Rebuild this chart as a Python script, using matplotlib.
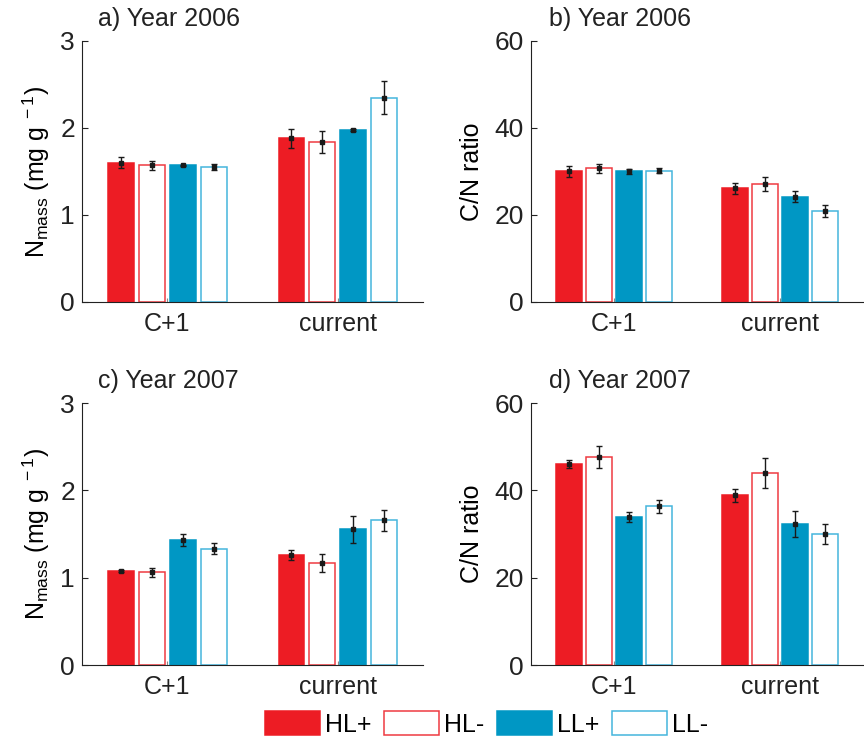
import numpy as np
import matplotlib
matplotlib.use('Agg')
import matplotlib.pyplot as plt
from matplotlib.patches import Patch

plt.rcParams['font.family'] = ['Liberation Sans', 'DejaVu Sans']
plt.rcParams['mathtext.fontset'] = 'custom'
plt.rcParams['mathtext.rm'] = 'Liberation Sans'
plt.rcParams['mathtext.it'] = 'Liberation Sans:italic'

# Leaf categories and treatments
categories = ['C+1', 'current']
treatments = ['HL+', 'HL-', 'LL+', 'LL-']

# N mass (mg g-1), rows = treatments, cols = categories
n_2006 = [[1.60, 1.88], [1.57, 1.84], [1.57, 1.975], [1.55, 2.345]]
n_2006_err = [[0.065, 0.11], [0.055, 0.13], [0.01, 0.01], [0.035, 0.19]]
n_2007 = [[1.075, 1.257], [1.062, 1.165], [1.43, 1.555], [1.334, 1.658]]
n_2007_err = [[0.01, 0.055], [0.05, 0.105], [0.065, 0.155], [0.06, 0.12]]

# C/N ratio
cn_2006 = [[30.0, 26.1], [30.7, 27.1], [30.0, 24.2], [30.2, 20.9]]
cn_2006_err = [[1.3, 1.3], [1.0, 1.7], [0.6, 1.3], [0.6, 1.35]]
cn_2007 = [[46.0, 38.9], [47.7, 44.0], [33.9, 32.3], [36.4, 30.0]]
cn_2007_err = [[0.95, 1.5], [2.5, 3.5], [1.25, 3.05], [1.5, 2.25]]

red = '#ED1C24'
blue = '#0097C4'
faces = [red, 'white', blue, 'white']
edges = [red, '#EF3A41', blue, '#45B5DD']

fig = plt.figure(figsize=(8.64, 7.38), dpi=100)

# Axes boxes: left, bottom, width, height
boxes = [[0.0949, 0.5908, 0.3947, 0.3537],
         [0.6146, 0.5908, 0.3843, 0.3537],
         [0.0949, 0.0989, 0.3947, 0.3550],
         [0.6146, 0.0989, 0.3843, 0.3550]]
panels = [(n_2006, n_2006_err, 'a) Year 2006', 3, [0, 1, 2, 3]),
          (cn_2006, cn_2006_err, 'b) Year 2006', 60, [0, 20, 40, 60]),
          (n_2007, n_2007_err, 'c) Year 2007', 3, [0, 1, 2, 3]),
          (cn_2007, cn_2007_err, 'd) Year 2007', 60, [0, 20, 40, 60])]

x = np.arange(1, len(categories) + 1)
pitch = 0.181
width = 0.152

for k, (vals, errs, title, ymax, yticks) in enumerate(panels):
    ax = fig.add_axes(boxes[k])
    for i in range(len(treatments)):
        pos = x + (i - 1.5) * pitch
        ax.bar(pos, vals[i], width, color=faces[i], edgecolor=edges[i],
               linewidth=1.1, label=treatments[i])
        ax.errorbar(pos, vals[i], yerr=errs[i], fmt='s', ms=3, color='#1a1a1a',
                    elinewidth=1, capsize=2, capthick=1)

    ax.set_xlim(0.5, 2.5)
    ax.set_ylim(0, ymax)
    ax.set_yticks(yticks)
    ax.set_xticks(x)
    ax.set_xticklabels(categories)
    ax.spines['top'].set_visible(False)
    ax.spines['right'].set_visible(False)
    ax.spines['left'].set_color('#222222')
    ax.spines['bottom'].set_color('#222222')
    ax.tick_params(axis='y', direction='in', length=4, labelsize=19, pad=5,
                   colors='#222222')
    ax.tick_params(axis='x', direction='in', length=3, labelsize=18, pad=7,
                   colors='#888888', labelcolor='#222222')

    if k % 2 == 0:
        ax.set_ylabel(r'N$_{\rm mass}$ (mg g$^{\rm \ -1}$)', fontsize=18, labelpad=6)
        ax.text(0.047, 1.04, title, transform=ax.transAxes, fontsize=18,
                ha='left', va='bottom', color='#222222')
    else:
        ax.set_ylabel('C/N ratio', fontsize=18, labelpad=8)
        ax.text(0.054, 1.04, title, transform=ax.transAxes, fontsize=18,
                ha='left', va='bottom', color='#222222')

# Shared legend along the bottom
handles = [Patch(facecolor=faces[i], edgecolor=edges[i], linewidth=1.1)
           for i in range(len(treatments))]
fig.legend(handles, treatments, loc='lower center', bbox_to_anchor=(0.563, -0.029),
           ncol=4, frameon=False, fontsize=18, handlelength=2.2, handleheight=1.1,
           handletextpad=0.2, columnspacing=0.5)

fig.savefig('out.png', dpi=100)
